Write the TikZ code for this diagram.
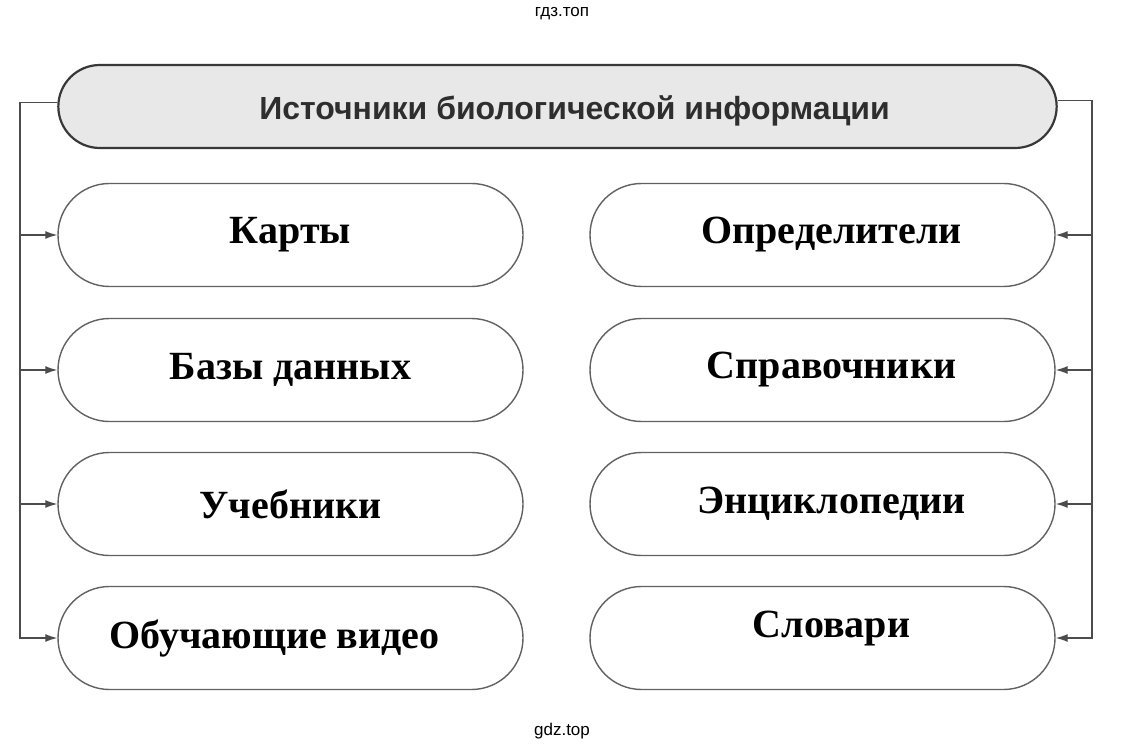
\documentclass[tikz,border=0pt]{standalone}
\usepackage{fontspec}
\setmainfont{Liberation Serif}
\setsansfont{Liberation Sans}
\usetikzlibrary{
	positioning,    %定位
	arrows.meta,    %箭头
	shapes.misc     %圆角矩形
}
\tikzstyle{srcbox}=[rounded rectangle,
draw=black!62,
line width=1.4pt,
minimum width=465pt,
minimum height=103pt,
inner sep=0pt]
\tikzstyle{headbox}=[rounded rectangle,
draw=black!78,
fill=gray!18,
line width=2.2pt,
minimum width=1005pt,
minimum height=83pt]
\tikzset{
	every picture/.style={
		>={Latex[length=12pt,width=8pt]},
		x=1pt,y=-1pt
	},
	srctext/.style={font=\bfseries\fontsize{40}{40}\selectfont},
	headtext/.style={text=black!82,font=\sffamily\bfseries\fontsize{32}{32}\selectfont},
	link/.style={draw=black!70,line width=1.3pt},
	wmark/.style={font=\sffamily\fontsize{17}{17}\selectfont}
}

\begin{document}
\begin{tikzpicture}
\fill[white] (0,0) rectangle (1124,751);
\useasboundingbox (0,0) rectangle (1124,751);
% title
\node[headbox] (head) at (557.5,106.5) {};
\node[headtext,xshift=17pt,yshift=-4pt] (headt) at (head) {Источники биологической информации};
% left column
\node[srcbox] (l1) at (290.5,235) {};
\node[srcbox] (l2) at (290.5,370) {};
\node[srcbox] (l3) at (290.5,504) {};
\node[srcbox] (l4) at (290.5,638) {};
\node[srctext] (l1t) at (l1) {Карты};
\node[srctext] (l2t) at (l2) {Базы данных};
\node[srctext] (l3t) at (l3) {Учебники};
\node[srctext,xshift=-16pt] (l4t) at (l4) {Обучающие видео};
% right column
\node[srcbox] (r1) at (822.5,235) {};
\node[srcbox] (r2) at (822.5,370) {};
\node[srcbox] (r3) at (822.5,504) {};
\node[srcbox] (r4) at (822.5,638) {};
\node[srctext,xshift=9pt] (r1t) at (r1) {Определители};
\node[srctext,xshift=9pt] (r2t) at (r2) {Справочники};
\node[srctext,xshift=9pt] (r3t) at (r3) {Энциклопедии};
\node[srctext,xshift=9pt,yshift=9pt] (r4t) at (r4) {Словари};
% bus lines
\coordinate (lbus) at (20,0);
\coordinate (rbus) at (1092,0);
\draw[link,->] ([yshift=4pt]head.west) -- ([yshift=4pt]head.west -| lbus) |- (l4.west);
\draw[link,->] ([yshift=6pt]head.east) -- ([yshift=6pt]head.east -| rbus) |- (r4.east);
\foreach \n in {1,2,3}{
	\draw[link,->] (l\n.west -| lbus) -- (l\n.west);
	\draw[link,->] (r\n.east -| rbus) -- (r\n.east);
}
% watermarks
\node[wmark] (wmtop) at (562,14) {гдз.топ};
\node[wmark] (wmbot) at (562,731) {gdz.top};
\end{tikzpicture}
\end{document}
